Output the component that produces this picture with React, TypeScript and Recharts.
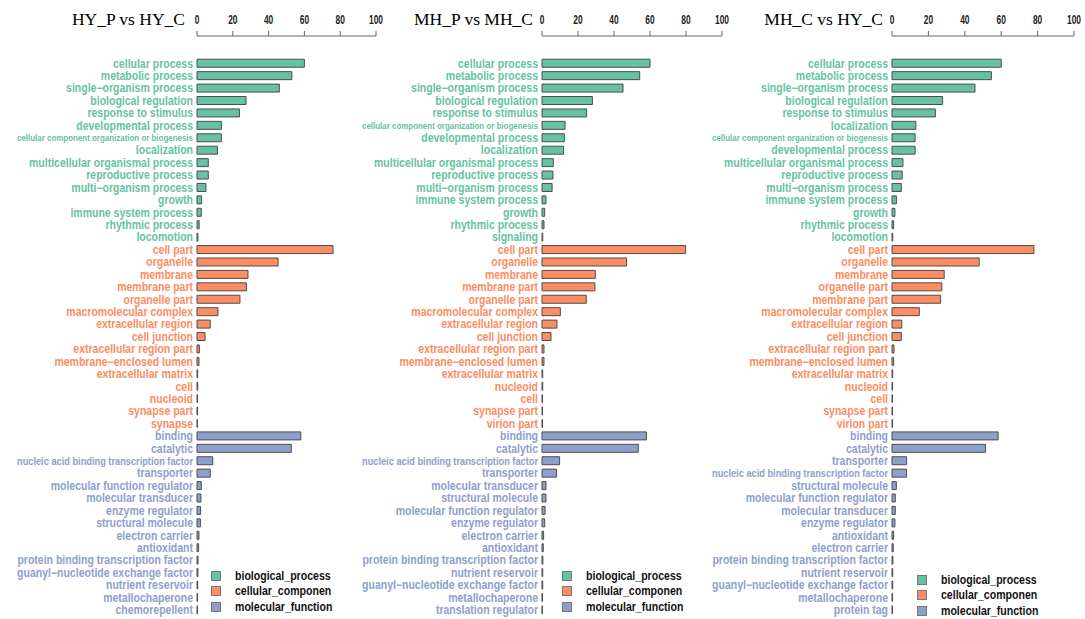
import React from "react"
import { BarChart, Bar, XAxis, YAxis, Cell, Legend } from "recharts"

const bioColor = "#66c2a5"
const cellColor = "#fc8d62"
const molColor = "#8da0cb"

const legendNames = ["biological_process", "cellular_componen", "molecular_function"]
const axisTicks = [0, 20, 40, 60, 80, 100]

// HY_P vs HY_C
const hyBioTerms = ["cellular process", "metabolic process", "single\u2212organism process", "biological regulation", "response to stimulus", "developmental process", "cellular component organization or biogenesis", "localization", "multicellular organismal process", "reproductive process", "multi\u2212organism process", "growth", "immune system process", "rhythmic process", "locomotion"]
const hyBioValues = [60, 53, 46, 27.4, 23.7, 13.6, 13.6, 11.4, 6.3, 6.3, 5, 2.6, 2.4, 1.2, 0.5]
const hyCellTerms = ["cell part", "organelle", "membrane", "membrane part", "organelle part", "macromolecular complex", "extracellular region", "cell junction", "extracellular region part", "membrane\u2212enclosed lumen", "extracellular matrix", "cell", "nucleoid", "synapse part", "synapse"]
const hyCellValues = [76, 45.3, 28.5, 27.6, 24, 11.7, 7.4, 4.5, 1.3, 1.1, 0.4, 0.4, 0.3, 0.3, 0.2]
const hyMolTerms = ["binding", "catalytic", "nucleic acid binding transcription factor", "transporter", "molecular function regulator", "molecular transducer", "enzyme regulator", "structural molecule", "electron carrier", "antioxidant", "protein binding transcription factor", "guanyl\u2212nucleotide exchange factor", "nutrient reservoir", "metallochaperone", "chemorepellent"]
const hyMolValues = [58, 52.7, 8.8, 7.4, 2.4, 2.2, 2, 1.9, 1.1, 0.9, 0.6, 0.5, 0.4, 0.3, 0.2]

// MH_P vs MH_C
const mhBioTerms = ["cellular process", "metabolic process", "single\u2212organism process", "biological regulation", "response to stimulus", "cellular component organization or biogenesis", "developmental process", "localization", "multicellular organismal process", "reproductive process", "multi\u2212organism process", "immune system process", "growth", "rhythmic process", "signaling"]
const mhBioValues = [60, 54.3, 45, 28, 24.8, 12.8, 12.4, 12, 6.3, 6.1, 5.6, 2.2, 1.5, 1.1, 0.4]
const mhCellTerms = ["cell part", "organelle", "membrane", "membrane part", "organelle part", "macromolecular complex", "extracellular region", "cell junction", "extracellular region part", "membrane\u2212enclosed lumen", "extracellular matrix", "nucleoid", "cell", "synapse part", "virion part"]
const mhCellValues = [79.8, 47, 29.6, 29.4, 24.6, 10.2, 8.3, 5, 1.1, 1.1, 0.4, 0.4, 0.3, 0.3, 0.3]
const mhMolTerms = ["binding", "catalytic", "nucleic acid binding transcription factor", "transporter", "molecular transducer", "structural molecule", "molecular function regulator", "enzyme regulator", "electron carrier", "antioxidant", "protein binding transcription factor", "nutrient reservoir", "guanyl\u2212nucleotide exchange factor", "metallochaperone", "translation regulator"]
const mhMolValues = [58, 53.5, 9.8, 8.1, 2.2, 2.2, 1.7, 1.5, 0.9, 0.7, 0.5, 0.4, 0.4, 0.3, 0.2]

// MH_C vs HY_C
const mcBioTerms = ["cellular process", "metabolic process", "single\u2212organism process", "biological regulation", "response to stimulus", "localization", "cellular component organization or biogenesis", "developmental process", "multicellular organismal process", "reproductive process", "multi\u2212organism process", "immune system process", "growth", "rhythmic process", "locomotion"]
const mcBioValues = [60, 54.6, 45.6, 27.8, 23.8, 13.1, 12.7, 12.7, 6, 5.6, 5.1, 2.4, 1.6, 0.9, 0.4]
const mcCellTerms = ["cell part", "organelle", "membrane", "organelle part", "membrane part", "macromolecular complex", "extracellular region", "cell junction", "extracellular region part", "membrane\u2212enclosed lumen", "extracellular matrix", "nucleoid", "cell", "synapse part", "virion part"]
const mcCellValues = [78, 47.9, 28.7, 27.4, 26.7, 15, 5.4, 5.1, 1.1, 0.9, 0.4, 0.3, 0.3, 0.3, 0.3]
const mcMolTerms = ["binding", "catalytic", "transporter", "nucleic acid binding transcription factor", "structural molecule", "molecular function regulator", "molecular transducer", "enzyme regulator", "antioxidant", "electron carrier", "protein binding transcription factor", "nutrient reservoir", "guanyl\u2212nucleotide exchange factor", "metallochaperone", "protein tag"]
const mcMolValues = [58.3, 51.4, 8, 8, 2.4, 1.8, 1.8, 1.6, 0.9, 0.7, 0.5, 0.4, 0.4, 0.3, 0.3]

const sans = "'Liberation Sans', Arial, sans-serif"
const labelSize = 12
const squeeze = 0.875
const maxLabelWidth = 176

let ctx: CanvasRenderingContext2D | null = null
function textWidth(s: string, size: number) {
  if (!ctx) ctx = document.createElement("canvas").getContext("2d")
  if (!ctx) return s.length * size * 0.55
  ctx.font = `bold ${size}px ${sans}`
  return ctx.measureText(s).width
}

function buildRows(groups: [string[], number[], string][]) {
  const rows: { name: string; value: number; color: string }[] = []
  groups.forEach(([terms, values, color]) => {
    terms.forEach((t, i) => rows.push({ name: t, value: values[i], color }))
  })
  return rows
}

const renderLegend = () => (
  <div style={{ fontFamily: sans, fontWeight: "bold", fontSize: 12, color: "#111" }}>
    {legendNames.map((n, i) => (
      <div key={n} style={{ display: "flex", alignItems: "center", height: 15.5 }}>
        <span
          style={{
            display: "inline-block",
            width: 8,
            height: 8,
            background: [bioColor, cellColor, molColor][i],
            border: "1px solid #777",
            marginRight: 14,
          }}
        />
        <span style={{ display: "inline-block", transform: "scaleX(0.88)", transformOrigin: "left center", whiteSpace: "nowrap" }}>{n}</span>
      </div>
    ))}
  </div>
)

const XTick = (props: any) => {
  const { x, y, payload } = props
  const s = String(payload.value)
  const w = textWidth(s, 12) * 0.7
  return (
    <text x={x} y={y} textAnchor="middle" fill="#222" fontFamily={sans} fontWeight="bold" fontSize={12}
      textLength={w} lengthAdjust="spacingAndGlyphs">
      {s}
    </text>
  )
}

function Panel({ title, rows, left, width, axisW, plotW, titleRight, legendX, legendY }: any) {
  const Tick = (props: any) => {
    const { x, y, payload } = props
    const row = rows[payload.index]
    const cw = textWidth(payload.value, labelSize) * squeeze
    let size = labelSize
    let len = cw
    if (cw > maxLabelWidth) {
      // long terms get both smaller and narrower, as in the source figure
      size = labelSize * Math.pow(maxLabelWidth / cw, 0.7)
      len = maxLabelWidth
    }
    return (
      <text x={x} y={y} dy={size * 0.36} textAnchor="end" fill={row ? row.color : "#999"}
        fontFamily={sans} fontWeight="bold" fontSize={size} textLength={len} lengthAdjust="spacingAndGlyphs">
        {payload.value}
      </text>
    )
  }
  return (
    <div style={{ position: "absolute", left, top: 0 }}>
      <div style={{ position: "absolute", right: width - titleRight, top: 9, whiteSpace: "nowrap",
        fontFamily: "'Liberation Serif', 'Times New Roman', serif", fontSize: 17.5, lineHeight: "20px" }}>
        {title}
      </div>
      <BarChart width={width} height={619} data={rows} layout="vertical" barCategoryGap="18%"
        margin={{ top: 0, right: width - axisW - plotW, bottom: 3, left: 0 }}>
        <XAxis type="number" orientation="top" domain={[0, 100]} ticks={axisTicks} height={36}
          stroke="#666" tickSize={5} tickMargin={7} interval={0} tick={<XTick />} />
        <YAxis type="category" dataKey="name" width={axisW} axisLine={false} tickLine={false}
          tickSize={0} tickMargin={4} interval={0} padding={{ top: 21 }} tick={<Tick />} />
        <Bar dataKey="value" stroke="#4d4d4d" strokeWidth={1} isAnimationActive={false}>
          {rows.map((r: any, i: number) => (
            <Cell key={`cell-${i}`} fill={r.color} />
          ))}
        </Bar>
        <Legend layout="horizontal" verticalAlign="middle" align="center" content={renderLegend}
          wrapperStyle={{ left: legendX, top: legendY, width: "auto" }} />
      </BarChart>
    </div>
  )
}

export default function App() {
  const hy = buildRows([[hyBioTerms, hyBioValues, bioColor], [hyCellTerms, hyCellValues, cellColor], [hyMolTerms, hyMolValues, molColor]])
  const mh = buildRows([[mhBioTerms, mhBioValues, bioColor], [mhCellTerms, mhCellValues, cellColor], [mhMolTerms, mhMolValues, molColor]])
  const mc = buildRows([[mcBioTerms, mcBioValues, bioColor], [mcCellTerms, mcCellValues, cellColor], [mcMolTerms, mcMolValues, molColor]])
  return (
    <div style={{ position: "absolute", left: 0, top: 0, width: 1085, height: 619, background: "#fff", overflow: "hidden" }}>
      <Panel title="HY_P vs HY_C" rows={hy} left={0} width={400} axisW={197} plotW={179} titleRight={185} legendX={211} legendY={568} />
      <Panel title="MH_P vs MH_C" rows={mh} left={350} width={400} axisW={192} plotW={180} titleRight={183} legendX={212} legendY={568} />
      <Panel title="MH_C vs HY_C" rows={mc} left={700} width={385} axisW={192} plotW={182} titleRight={183} legendX={217} legendY={572} />
    </div>
  )
}
